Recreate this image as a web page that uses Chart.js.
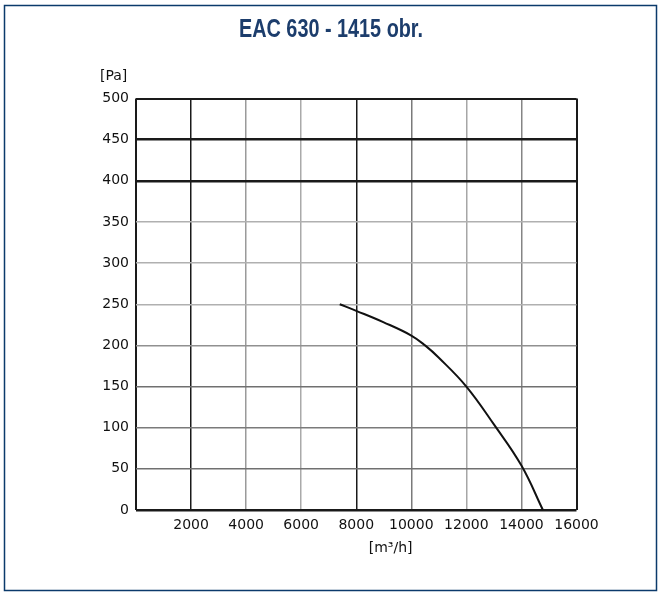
<!DOCTYPE html>
<html>
<head>
<meta charset="utf-8">
<script src="https://cdn.jsdelivr.net/npm/chart.js@4"></script>
<style>
  html, body { margin: 0; padding: 0; background: #fff; }
  #wrap { width: 664px; height: 596px; }
</style>
</head>
<body>
<div id="wrap"><canvas id="fanChart"></canvas></div>
<script>
    // Data
    const titleText = 'EAC 630 - 1415 obr.';
    const flowValues = [7400, 8000, 9000, 10000, 10500, 11000, 12000, 13000, 14000, 14780];
    const pressureValues = [250, 242, 228, 212, 200, 185, 150, 104, 54, 0];
    const xTicks = [0, 2000, 4000, 6000, 8000, 10000, 12000, 14000, 16000];
    const yTicks = [0, 50, 100, 150, 200, 250, 300, 350, 400, 450, 500];
    const xUnit = '[m³/h]';
    const yUnit = '[Pa]';

    const points = flowValues.map((x, i) => ({ x: x, y: pressureValues[i] }));

    const tickFont = { family: "'DejaVu Sans', sans-serif", size: 14 };

    // grid colours per value (black, dark gray, light gray)
    const xGridColor = { 0: '#1a1a1a', 2000: '#1a1a1a', 4000: '#9a9a9a', 6000: '#aaaaaa', 8000: '#1a1a1a',
        10000: '#7a7a7a', 12000: '#a6a6a6', 14000: '#858585', 16000: '#1a1a1a' };
    const yGridColor = { 0: '#1a1a1a', 50: '#707070', 100: '#7a7a7a', 150: '#707070', 200: '#909090',
        250: '#b0b0b0', 300: '#b0b0b0', 350: '#b0b0b0', 400: '#1a1a1a', 450: '#1a1a1a', 500: '#1a1a1a' };

    // frame, title and axis unit labels
    const decorations = {
        id: 'decorations',
        beforeDraw(chart) {
            const c = chart.ctx;
            c.save();
            c.fillStyle = '#ffffff';
            c.fillRect(0, 0, chart.width, chart.height);
            c.strokeStyle = '#0b3a6b';
            c.lineWidth = 1.5;
            c.strokeRect(4.5, 5.5, 652, 585);
            c.restore();
        },
        afterDraw(chart) {
            const c = chart.ctx;
            const a = chart.chartArea;
            c.save();
            // condensed title: squeeze it to the width it has in the picture
            c.fillStyle = '#1c3d6c';
            c.font = "bold 25px 'Liberation Sans', Arial, sans-serif";
            c.textAlign = 'center';
            c.textBaseline = 'alphabetic';
            const w = c.measureText(titleText).width;
            c.translate(331, 37);
            c.scale(184 / w, 1);
            c.fillText(titleText, 0, 0);
            c.restore();

            c.save();
            c.fillStyle = '#111111';
            c.font = "14px 'DejaVu Sans', sans-serif";
            c.textAlign = 'left';
            c.textBaseline = 'middle';
            c.fillText(yUnit, 100, 76);
            c.textAlign = 'center';
            c.fillText(xUnit, a.left + (a.right - a.left) * 0.578, 548);
            c.restore();
        }
    };

    const ctx = document.getElementById('fanChart').getContext('2d');
    const fanChart = new Chart(ctx, {
        type: 'scatter',
        data: {
            datasets: [{
                label: titleText,
                data: points,
                showLine: true,
                borderColor: '#111111',
                borderWidth: 2,
                pointRadius: 0,
                tension: 0.4
            }]
        },
        options: {
            responsive: true,
            maintainAspectRatio: false,
            animation: false,
            layout: {
                padding: { left: 0, right: 87.5, top: 98.5, bottom: 56 }
            },
            scales: {
                x: {
                    type: 'linear',
                    min: 0,
                    max: 16000,
                    afterBuildTicks: s => { s.ticks = xTicks.map(v => ({ value: v })); },
                    afterFit: s => { s.height = 30; },
                    border: { display: false },
                    grid: {
                        drawTicks: false,
                        color: c => xGridColor[c.tick.value] || '#aaaaaa',
                        lineWidth: c => (c.tick.value === 0 || c.tick.value === 16000) ? 2 : 1.5
                    },
                    ticks: {
                        color: '#111111',
                        font: tickFont,
                        padding: 7,
                        maxRotation: 0,
                        autoSkip: false,
                        callback: v => v === 0 ? '' : String(v)
                    }
                },
                y: {
                    min: 0,
                    max: 500,
                    afterBuildTicks: s => { s.ticks = yTicks.map(v => ({ value: v })); },
                    afterFit: s => { s.width = 136; },
                    border: { display: false },
                    grid: {
                        drawTicks: false,
                        color: c => yGridColor[c.tick.value] || '#aaaaaa',
                        lineWidth: c => (c.tick.value === 400 || c.tick.value === 450 || c.tick.value === 0) ? 2.5 : (c.tick.value === 500 ? 2 : 1.5)
                    },
                    ticks: {
                        color: '#111111',
                        font: tickFont,
                        padding: 7,
                        autoSkip: false
                    }
                }
            },
            plugins: {
                legend: { display: false },
                title: { display: false },
                tooltip: { enabled: false }
            }
        },
        plugins: [decorations]
    });
</script>
</body>
</html>
